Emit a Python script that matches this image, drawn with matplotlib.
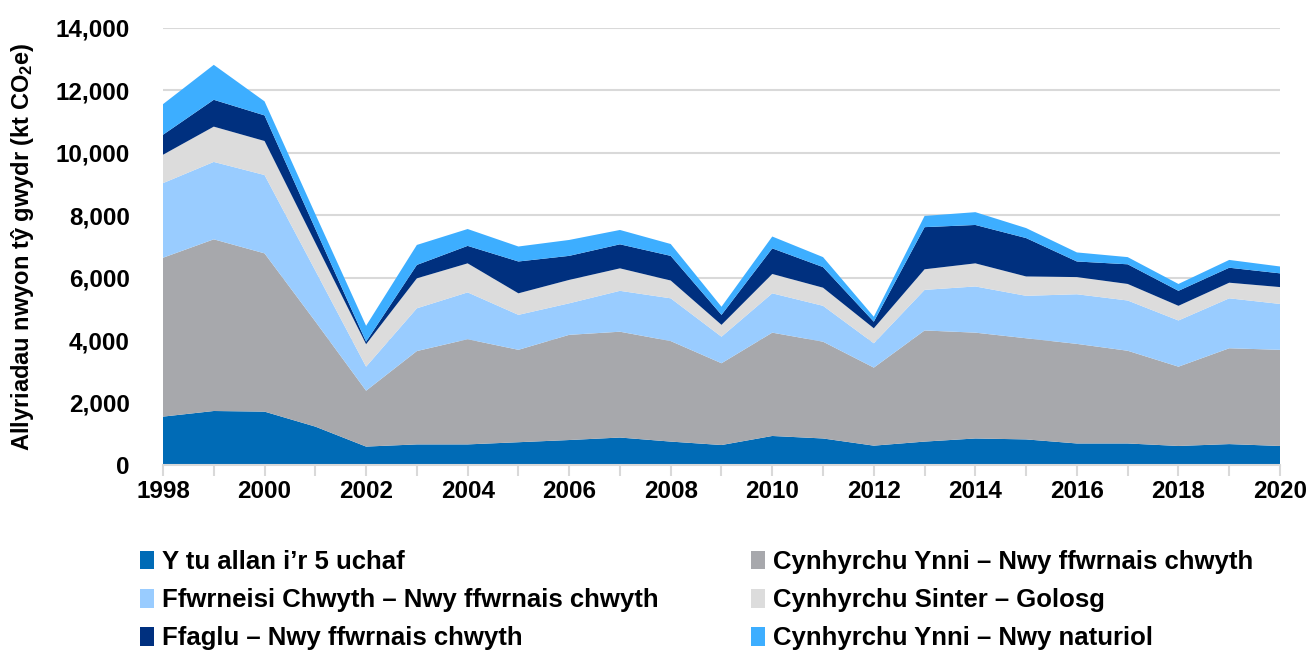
import matplotlib
matplotlib.use('Agg')
import matplotlib.pyplot as plt
from matplotlib.ticker import FuncFormatter, MultipleLocator

plt.rcParams['font.family'] = ['Liberation Sans', 'DejaVu Sans']
plt.rcParams['font.weight'] = 'bold'
plt.rcParams['mathtext.default'] = 'regular'

# blynyddoedd
years = list(range(1998, 2021))

# kt CO2e, fesul ffynhonnell (wedi'u pentyrru)
tu_allan = [1550, 1730, 1710, 1230, 590, 660, 660, 730, 800, 880, 750, 640,
            930, 850, 620, 750, 850, 820, 690, 690, 610, 670, 610]
ynni_ffwrnais = [5090, 5500, 5070, 3370, 1790, 2990, 3370, 2960, 3370, 3390, 3220, 2620,
                 3310, 3100, 2500, 3560, 3390, 3240, 3190, 2970, 2540, 3070, 3080]
ffwrneisi = [2390, 2480, 2510, 1630, 770, 1370, 1500, 1120, 1010, 1310, 1370, 850,
             1260, 1150, 780, 1300, 1480, 1360, 1590, 1610, 1480, 1600, 1470]
sinter = [910, 1130, 1090, 890, 720, 960, 930, 690, 750, 720, 570, 380,
          620, 580, 480, 660, 740, 620, 550, 530, 470, 500, 540]
ffaglu = [640, 860, 820, 450, 80, 430, 560, 1020, 770, 770, 790, 320,
          820, 660, 210, 1350, 1230, 1230, 500, 630, 480, 480, 440]
nwy_naturiol = [980, 1120, 450, 470, 510, 640, 540, 480, 510, 460, 380, 260,
                380, 320, 160, 360, 410, 320, 290, 230, 220, 250, 220]

labels = ["Y tu allan i\u2019r 5 uchaf",
          "Cynhyrchu Ynni \u2013 Nwy ffwrnais chwyth",
          "Ffwrneisi Chwyth \u2013 Nwy ffwrnais chwyth",
          "Cynhyrchu Sinter \u2013 Golosg",
          "Ffaglu \u2013 Nwy ffwrnais chwyth",
          "Cynhyrchu Ynni \u2013 Nwy naturiol"]
colours = ['#006BB6', '#A7A8AC', '#99CCFF', '#DCDCDC', '#00307F', '#3DAEFF']

fig = plt.figure(figsize=(13.08, 6.52), dpi=100)
ax = fig.add_axes([163/1308, 1-465/652, (1280-163)/1308, (465-28)/652])

polys = ax.stackplot(years, tu_allan, ynni_ffwrnais, ffwrneisi, sinter, ffaglu, nwy_naturiol,
                     colors=colours, labels=labels, linewidth=0, zorder=2)

ax.set_xlim(1998, 2020)
ax.set_ylim(0, 14000)
ax.yaxis.set_major_locator(MultipleLocator(2000))
ax.yaxis.set_major_formatter(FuncFormatter(lambda v, p: '{:,.0f}'.format(v)))
ax.xaxis.set_major_locator(MultipleLocator(2))
ax.xaxis.set_minor_locator(MultipleLocator(1))

ax.grid(axis='y', color='#D9D9D9', linewidth=1.5, zorder=0)
ax.set_axisbelow(True)
for s in ['top', 'right', 'left']:
    ax.spines[s].set_visible(False)
ax.spines['bottom'].set_color('#D9D9D9')
ax.spines['bottom'].set_linewidth(1.5)

ax.tick_params(axis='y', length=0, pad=24, labelsize=17.5)
ax.tick_params(axis='x', which='both', length=8, width=1.5, color='#D9D9D9',
               labelsize=17.5, pad=3)

ax.set_ylabel('Allyriadau nwyon t\u0177 gwydr (kt CO$_2$e)', fontsize=17,
              fontweight='bold', labelpad=14)

# trefn y rhes: 2 golofn
order = [0, 2, 4, 1, 3, 5]
fig.legend([polys[i] for i in order], [labels[i] for i in order],
           loc='upper left', bbox_to_anchor=(140/1308, 1-550/652), ncol=2,
           frameon=False, fontsize=18.5, handlelength=0.55, handleheight=0.75,
           handletextpad=0.3, columnspacing=3.6, labelspacing=0.55,
           borderpad=0, borderaxespad=0)

fig.savefig('out.png', dpi=100)
